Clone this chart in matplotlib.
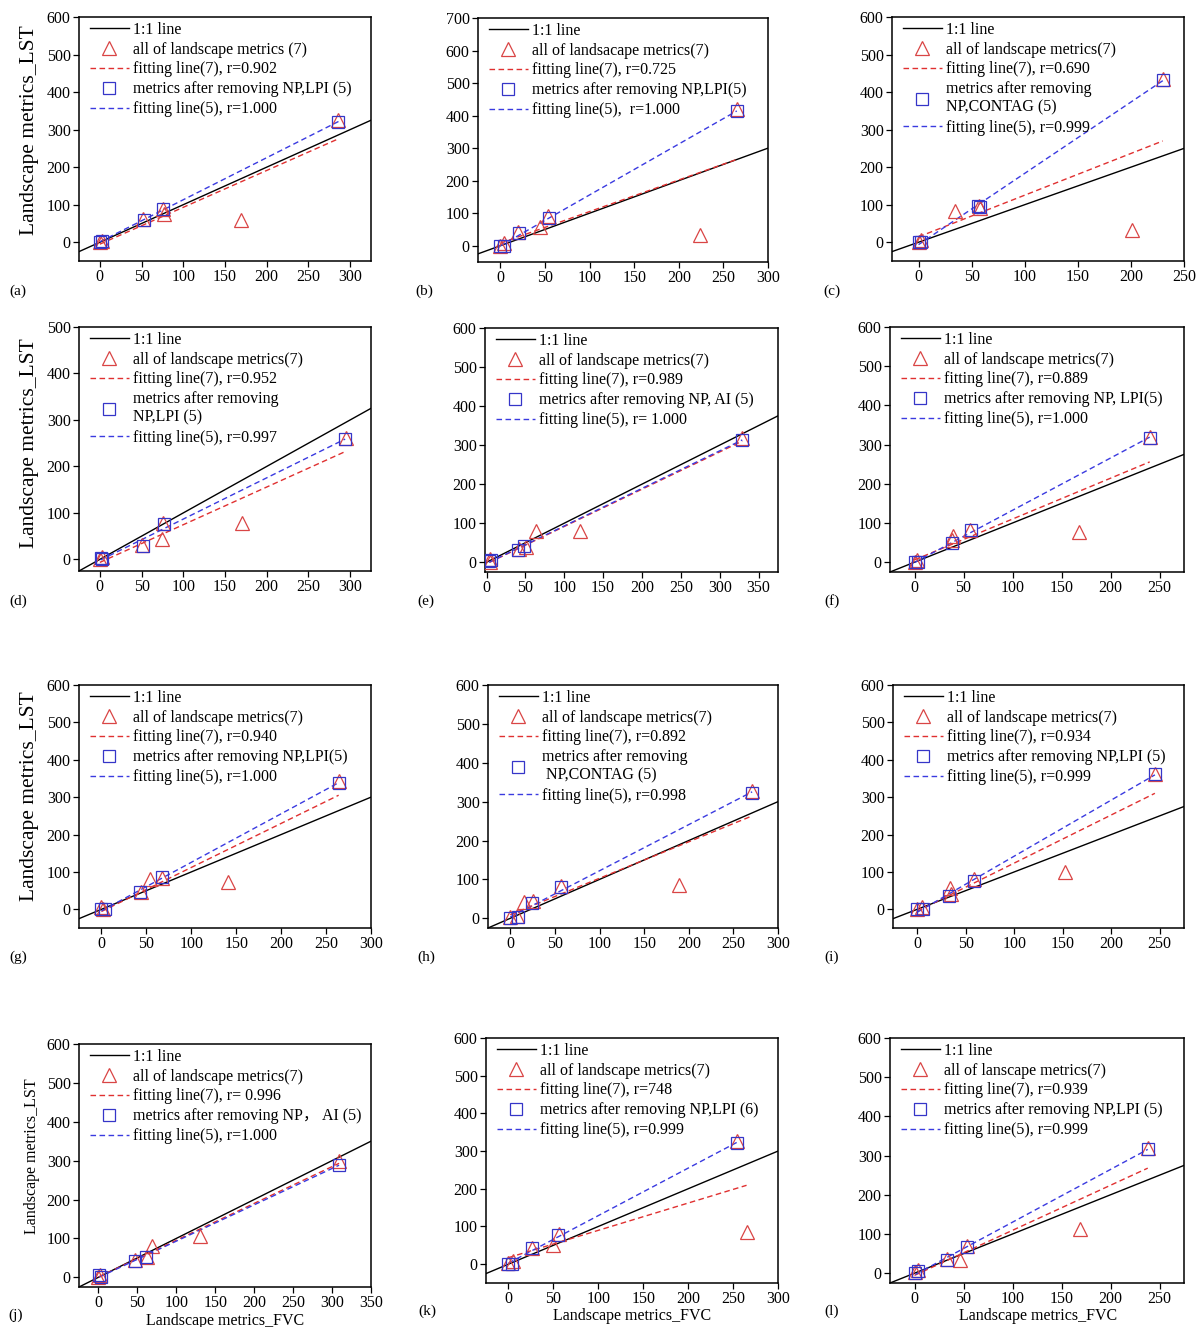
import numpy as np
import matplotlib
matplotlib.use('Agg')
import matplotlib.pyplot as plt

plt.rcParams['font.family'] = ['Liberation Serif', 'Noto Sans CJK SC', 'DejaVu Sans']

# ---------------- data ----------------
panel_ids = ['a', 'b', 'c', 'd', 'e', 'f', 'g', 'h', 'i', 'j', 'k', 'l']

a_tri_x = [0, 2, 52, 76, 77, 169, 286]
a_tri_y = [0, 3, 62, 89, 74, 60, 326]
a_sq_x = [0, 2, 53, 76, 286]
a_sq_y = [0, 3, 60, 89, 321]

b_tri_x = [0, 4, 20, 45, 54, 224, 265]
b_tri_y = [0, 8, 41, 57, 90, 33, 420]
b_sq_x = [0, 4, 21, 55, 265]
b_sq_y = [0, 0, 39, 85, 414]

c_tri_x = [0, 2.5, 34, 57, 58, 201, 230]
c_tri_y = [0, 6, 84, 97, 91, 33, 436]
c_sq_x = [0, 2.5, 56, 57.5, 230]
c_sq_y = [0, 0, 97, 95, 433]

d_tri_x = [0, 2, 51, 75, 76, 170, 295]
d_tri_y = [0, 6, 31, 43, 78, 78, 261]
d_sq_x = [1, 2, 52, 77, 294]
d_sq_y = [4, 0, 29, 76, 259]

e_tri_x = [4, 5, 42, 51, 63, 120, 329]
e_tri_y = [0, 8, 33, 40, 80, 80, 318]
e_sq_x = [3, 6, 40, 48, 329]
e_sq_y = [3, 5, 31, 41, 314]

f_tri_x = [0, 3, 38, 39, 57, 168, 240]
f_tri_y = [0, 6, 57, 67, 83, 76, 320]
f_sq_x = [0, 4, 38, 58, 240]
f_sq_y = [0, 0, 50, 81, 318]

g_tri_x = [0, 2, 44, 54, 67, 141, 264]
g_tri_y = [5, 0, 47, 80, 83, 74, 344]
g_sq_x = [0, 4, 43, 67, 264]
g_sq_y = [0, 0, 45, 86, 339]

h_tri_x = [0, 7, 15, 25, 57, 189, 271]
h_tri_y = [3, 6, 43, 45, 83, 86, 327]
h_sq_x = [0, 9, 24, 57, 271]
h_sq_y = [0, 3, 40, 80, 323]

i_tri_x = [0, 4.5, 34, 35, 58, 152, 245]
i_tri_y = [0, 7, 56, 41, 80, 99, 362]
i_sq_x = [0, 6, 33, 58, 245]
i_sq_y = [0, 0, 36, 77, 361]

j_tri_x = [0, 2, 47, 62, 69, 130, 309]
j_tri_y = [2, 6, 45, 53, 81, 105, 299]
j_sq_x = [1, 3, 47, 61, 309]
j_sq_y = [6, 0, 43, 53, 289]

k_tri_x = [0, 5, 26, 50, 56, 254, 265]
k_tri_y = [3, 9, 42, 51, 80, 326, 85]
k_sq_x = [0, 4, 26, 55, 254]
k_sq_y = [0, 0, 42, 78, 321]

l_tri_x = [0, 3.5, 33, 46, 54, 169, 238]
l_tri_y = [3, 9, 37, 34, 69, 114, 320]
l_sq_x = [1, 4, 33, 54, 238]
l_sq_y = [0, 5, 33, 67, 317]

label_one = "1:1 line"
label_all = ["all of landscape metrics (7)", "all of landsacape metrics(7)",
             "all of landscape metrics(7)", "all of landscape metrics(7)",
             "all of landscape metrics(7)", "all of landscape metrics(7)",
             "all of landscape metrics(7)", "all of landscape metrics(7)",
             "all of landscape metrics(7)", "all of landscape metrics(7)",
             "all of landscape metrics(7)", "all of lanscape metrics(7)"]
label_fit7 = ["fitting line(7), r=0.902", "fitting line(7), r=0.725",
              "fitting line(7), r=0.690", "fitting line(7), r=0.952",
              "fitting line(7), r=0.989", "fitting line(7), r=0.889",
              "fitting line(7), r=0.940", "fitting line(7), r=0.892",
              "fitting line(7), r=0.934", "fitting line(7), r= 0.996",
              "fitting line(7), r=748", "fitting line(7), r=0.939"]
label_rm = ["metrics after removing NP,LPI (5)", "metrics after removing NP,LPI(5)",
            "metrics after removing\nNP,CONTAG (5)", "metrics after removing\nNP,LPI (5)",
            "metrics after removing NP, AI (5)", "metrics after removing NP, LPI(5)",
            "metrics after removing NP,LPI(5)", "metrics after removing\n NP,CONTAG (5)",
            "metrics after removing NP,LPI (5)", "metrics after removing NP\uff0c AI (5)",
            "metrics after removing NP,LPI (6)", "metrics after removing NP,LPI (5)"]
label_fit5 = ["fitting line(5), r=1.000", "fitting line(5),  r=1.000",
              "fitting line(5), r=0.999", "fitting line(5), r=0.997",
              "fitting line(5), r= 1.000", "fitting line(5), r=1.000",
              "fitting line(5), r=1.000", "fitting line(5), r=0.998",
              "fitting line(5), r=0.999", "fitting line(5), r=1.000",
              "fitting line(5), r=0.999", "fitting line(5), r=0.999"]

x_limits = [(-25, 325), (-25, 300), (-25, 250), (-25, 325), (-2, 375), (-25, 275),
            (-25, 300), (-25, 300), (-25, 275), (-25, 350), (-25, 300), (-25, 275)]
y_limits = [(-50, 600), (-50, 700), (-50, 600), (-25, 500), (-25, 600), (-25, 600),
            (-50, 600), (-25, 600), (-50, 600), (-25, 600), (-50, 600), (-25, 600)]

y_axis_title = "Landscape metrics_LST"
x_axis_title = "Landscape metrics_FVC"

# ---------------- layout (pixels) ----------------
W, H = 1202, 1327
boxes = [(79, 17, 371, 261), (478, 18, 768, 262), (892, 17, 1184, 261),
         (79, 327, 371, 571), (485, 328, 778, 572), (890, 327, 1184, 572),
         (79, 685, 371, 928), (488, 685, 778, 928), (893, 685, 1184, 928),
         (79, 1044, 371, 1287), (486, 1038, 778, 1283), (890, 1038, 1184, 1283)]
tag_pos = [(18, 291), (424, 291), (832, 291), (18, 601), (426, 601), (832, 601),
           (18, 957), (426, 957), (832, 957), (16, 1315), (427, 1311), (832, 1311)]

tri_xs = [a_tri_x, b_tri_x, c_tri_x, d_tri_x, e_tri_x, f_tri_x, g_tri_x, h_tri_x, i_tri_x, j_tri_x, k_tri_x, l_tri_x]
tri_ys = [a_tri_y, b_tri_y, c_tri_y, d_tri_y, e_tri_y, f_tri_y, g_tri_y, h_tri_y, i_tri_y, j_tri_y, k_tri_y, l_tri_y]
sq_xs = [a_sq_x, b_sq_x, c_sq_x, d_sq_x, e_sq_x, f_sq_x, g_sq_x, h_sq_x, i_sq_x, j_sq_x, k_sq_x, l_sq_x]
sq_ys = [a_sq_y, b_sq_y, c_sq_y, d_sq_y, e_sq_y, f_sq_y, g_sq_y, h_sq_y, i_sq_y, j_sq_y, k_sq_y, l_sq_y]

RED = '#d94545'
BLUE = '#3535c8'

fig = plt.figure(figsize=(W / 100, H / 100), dpi=100)


def fit_line(ax, xs, ys, color, label):
    xs = np.asarray(xs, float)
    ys = np.asarray(ys, float)
    k, b = np.polyfit(xs, ys, 1)
    xx = np.array([xs.min(), xs.max()])
    ax.plot(xx, k * xx + b, color=color, lw=1.0, linestyle=(0, (4, 2.5)), label=label, zorder=2)


for n, pid in enumerate(panel_ids):
    l, t, r, bt = boxes[n]
    ax = fig.add_axes([l / W, 1 - bt / H, (r - l) / W, (bt - t) / H])
    ax.set_xlim(*x_limits[n])
    ax.set_ylim(*y_limits[n])

    ax.axline((0, 0), slope=1, color='black', lw=1.0, label=label_one, zorder=1)
    ax.plot(tri_xs[n], tri_ys[n], linestyle='none', marker='^', ms=9.5, mfc='none',
            mec=RED, mew=0.9, label=label_all[n], zorder=3)
    fit_line(ax, tri_xs[n], tri_ys[n], '#e03030', label_fit7[n])
    ax.plot(sq_xs[n], sq_ys[n], linestyle='none', marker='s', ms=9, mfc='none',
            mec=BLUE, mew=0.9, label=label_rm[n], zorder=3)
    fit_line(ax, sq_xs[n], sq_ys[n], '#3a3ae0', label_fit5[n])

    ax.set_xticks(np.arange(0, x_limits[n][1] + 1, 50))
    ax.set_yticks(np.arange(0, y_limits[n][1] + 1, 100))
    ax.tick_params(direction='out', length=4, width=0.9, pad=2, labelsize=11.5)
    for s in ax.spines.values():
        s.set_linewidth(1.1)

    ax.legend(loc='upper left', bbox_to_anchor=(0.022, 1.0), frameon=False,
              fontsize=11.5, handlelength=2.4, handletextpad=0.3,
              labelspacing=0.24, borderpad=0.2, borderaxespad=0.1)

    tx, ty = tag_pos[n]
    fig.text(tx / W, 1 - ty / H, '(%s)' % pid, ha='center', va='center', fontsize=11)

# y-axis titles (left column)
fig.text(30 / W, 1 - 130 / H, y_axis_title, rotation=90, ha='center', va='center', fontsize=15.5)
fig.text(30 / W, 1 - 443 / H, y_axis_title, rotation=90, ha='center', va='center', fontsize=15.5)
fig.text(30 / W, 1 - 796 / H, y_axis_title, rotation=90, ha='center', va='center', fontsize=15.5)
fig.text(32 / W, 1 - 1156 / H, y_axis_title, rotation=90, ha='center', va='center', fontsize=11.5)

# x-axis titles (bottom row)
fig.text(225 / W, 1 - 1321 / H, x_axis_title, ha='center', va='center', fontsize=11.5)
fig.text(632 / W, 1 - 1316 / H, x_axis_title, ha='center', va='center', fontsize=11.5)
fig.text(1038 / W, 1 - 1316 / H, x_axis_title, ha='center', va='center', fontsize=11.5)

fig.savefig('out.png', dpi=100)
